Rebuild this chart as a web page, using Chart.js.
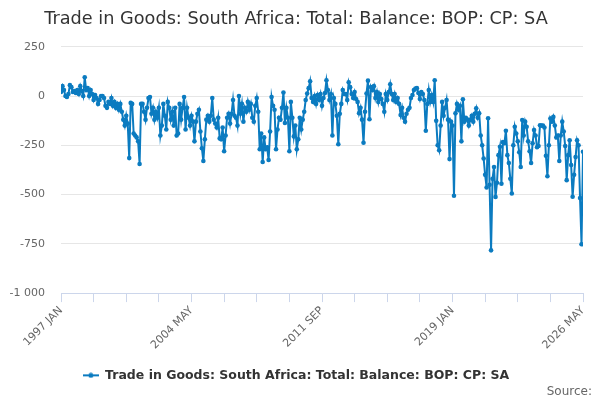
<!DOCTYPE html>
<html>
<head>
<meta charset="utf-8">
<script src="https://cdn.jsdelivr.net/npm/chart.js@4"></script>
<style>
  html, body { margin: 0; padding: 0; background: #fff; }
  #wrap { width: 600px; height: 400px; }
</style>
</head>
<body>
<div id="wrap"><canvas id="chart"></canvas></div>
<script>
// valeurs mensuelles (millions), une liste par annee
var y1997 = [20, 50, 30, 0, -5, 10, 55, 45, 20, 25, 15, 30];
var y1998 = [10, 50, 25, 0, 95, 30, 40, 0, 30, 10, -20, 5];
var y1999 = [-10, -40, -20, 0, 0, -10, -50, -60, -30, -40, -10, -50];
var y2000 = [-30, -60, -40, -70, -40, -80, -120, -150, -100, -140, -315, -35];
var y2001 = [-40, -190, -200, -210, -230, -345, -40, -40, -80, -120, -60, -10];
var y2002 = [-5, -90, -60, -120, -80, -110, -60, -200, -150, -40, -100, -170];
var y2003 = [-30, -60, -120, -80, -150, -60, -200, -190, -40, -120, -60, -5];
var y2004 = [-170, -60, -110, -150, -100, -130, -230, -130, -90, -70, -180, -265];
var y2005 = [-330, -220, -120, -100, -130, -100, -10, -120, -140, -160, -110, -215];
var y2006 = [-220, -160, -280, -200, -110, -90, -140, -90, -20, -100, -110, -150];
var y2007 = [0, -90, -40, -130, -60, -80, -30, -70, -40, -110, -130, -50];
var y2008 = [-10, -80, -270, -190, -335, -210, -270, -260, -325, -180, -5, -50];
var y2009 = [-70, -270, -170, -110, -120, -60, 18, -137, -60, -110, -280, -30];
var y2010 = [-110, -205, -150, -270, -220, -110, -170, -120, -80, -20, 13, 40];
var y2011 = [75, -10, -30, 0, -40, 5, -20, 10, -50, -10, 15, 80];
var y2012 = [30, -20, 10, -200, -10, -40, -100, -245, -90, -40, 30, 10];
var y2013 = [10, -20, 70, 45, 10, -10, 20, -15, -30, -87, -60, -120];
var y2014 = [-237, -80, 13, 78, -118, 46, 30, 50, -10, 20, -30, 10];
var y2015 = [-15, -40, -80, 10, -20, 20, 60, 10, -20, 10, -30, -10];
var y2016 = [-40, -96, -60, -110, -130, -90, -70, -60, -10, 5, 30, 38];
var y2017 = [40, 15, -15, 20, 10, -20, -176, -40, 30, -30, 5, -30];
var y2018 = [80, -126, -250, -275, -150, -30, -100, -60, -20, -120, -320, -130];
var y2019 = [-150, -506, -88, -40, -70, -50, -230, -17, -130, -110, -120, -150];
var y2020 = [-120, -100, -130, -90, -62, -110, -88, -200, -250, -317, -400, -464];
var y2021 = [-113, -450, -783, -420, -360, -512, -440, -300, -258, -445, -234, -240];
var y2022 = [-176, -300, -340, -420, -495, -250, -156, -190, -230, -285, -360, -122];
var y2023 = [-200, -130, -156, -230, -280, -340, -240, -173, -200, -260, -254, -148];
var y2024 = [-150, -150, -160, -303, -407, -250, -114, -130, -106, -150, -210, -200];
var y2025 = [-330, -200, -130, -180, -254, -427, -300, -225, -350, -511, -400, -310];
var y2026 = [-225, -250, -518, -752, -283];

var firstYear = 1997;
var monthNames = ['JAN', 'FEB', 'MAR', 'APR', 'MAY', 'JUN', 'JUL', 'AUG', 'SEP', 'OCT', 'NOV', 'DEC'];
var tickLabels = ['1997 JAN', '2004 MAY', '2011 SEP', '2019 JAN', '2026 MAY'];
var yTicks = [250, 0, -250, -500, -750, -1000];
var seriesName = 'Trade in Goods: South Africa: Total: Balance: BOP: CP: SA';
var lineColor = '#0b7bc0';

var values = [].concat(y1997, y1998, y1999, y2000, y2001, y2002, y2003, y2004, y2005, y2006,
    y2007, y2008, y2009, y2010, y2011, y2012, y2013, y2014, y2015, y2016,
    y2017, y2018, y2019, y2020, y2021, y2022, y2023, y2024, y2025, y2026);

var categories = values.map(function (v, i) {
    return (firstYear + Math.floor(i / 12)) + ' ' + monthNames[i % 12];
});
var points = values.map(function (v, i) { return { x: i, y: v }; });

// petit symbole de legende : trait + point
var legendIcon = document.createElement('canvas');
legendIcon.width = 16;
legendIcon.height = 6;
var lc = legendIcon.getContext('2d');
lc.strokeStyle = lineColor;
lc.lineWidth = 2;
lc.beginPath(); lc.moveTo(0, 3); lc.lineTo(16, 3); lc.stroke();
lc.fillStyle = lineColor;
lc.beginPath(); lc.arc(8, 3, 2.5, 0, Math.PI * 2); lc.fill();

function spaced(v) {
    var s = String(Math.abs(v)).replace(/\B(?=(\d{3})+(?!\d))/g, ' ');
    return (v < 0 ? '-' : '') + s;
}

Chart.defaults.font.family = '"DejaVu Sans", sans-serif';
Chart.defaults.animation = false;

var ctx = document.getElementById('chart').getContext('2d');
var myChart = new Chart(ctx, {
    type: 'line',
    data: {
        datasets: [{
            label: seriesName,
            data: points,
            borderColor: lineColor,
            backgroundColor: lineColor,
            borderWidth: 2,
            pointRadius: 2.3,
            pointHoverRadius: 3,
            pointBorderWidth: 0,
            fill: false,
            tension: 0
        }]
    },
    options: {
        responsive: true,
        maintainAspectRatio: false,
        layout: { padding: { left: 0, right: 8, top: 0, bottom: 0 } },
        plugins: {
            title: {
                display: true,
                text: seriesName,
                color: '#333333',
                font: { size: 17.7, weight: 'normal' },
                padding: { top: 9, bottom: 16.5 }
            },
            subtitle: {
                display: true,
                text: 'Source:',
                position: 'bottom',
                align: 'end',
                color: '#666666',
                font: { size: 12, weight: 'normal' },
                padding: { top: -7, bottom: 1 }
            },
            legend: {
                position: 'bottom',
                labels: {
                    color: '#333333',
                    font: { size: 12.5, weight: 'bold' },
                    usePointStyle: true,
                    pointStyleWidth: 16,
                    padding: 0,
                    generateLabels: function (chart) {
                        var items = Chart.defaults.plugins.legend.labels.generateLabels(chart);
                        items.forEach(function (it) { it.pointStyle = legendIcon; });
                        return items;
                    }
                }
            },
            tooltip: { enabled: false }
        },
        scales: {
            x: {
                type: 'linear',
                min: 0,
                max: values.length - 1,
                afterFit: function (s) { s.height = 76; },
                afterBuildTicks: function (s) {
                    var t = [];
                    for (var i = 0; i < values.length; i += 22) t.push({ value: i });
                    s.ticks = t;
                },
                ticks: {
                    autoSkip: false,
                    minRotation: 45,
                    maxRotation: 45,
                    color: '#666666',
                    font: { size: 11 },
                    padding: 2,
                    callback: function (v) {
                        var lab = categories[v];
                        return tickLabels.indexOf(lab) >= 0 ? lab : '';
                    }
                },
                grid: {
                    drawOnChartArea: false,
                    drawTicks: true,
                    tickLength: 9,
                    color: '#ccd6eb'
                },
                border: { display: true, color: '#ccd6eb', width: 1 }
            },
            y: {
                min: -1000,
                max: 250,
                afterFit: function (s) { s.width = 61; },
                afterBuildTicks: function (s) {
                    s.ticks = yTicks.map(function (v) { return { value: v }; });
                },
                ticks: {
                    color: '#666666',
                    font: { size: 11 },
                    padding: 16,
                    callback: function (v) { return spaced(v); }
                },
                grid: { color: '#e6e6e6', drawTicks: false },
                border: { display: false }
            },
            yRight: {
                position: 'right',
                display: true,
                afterFit: function (s) { s.width = 9; },
                ticks: { display: false },
                grid: { display: false },
                border: { display: false }
            }
        }
    }
});
</script>
</body>
</html>
